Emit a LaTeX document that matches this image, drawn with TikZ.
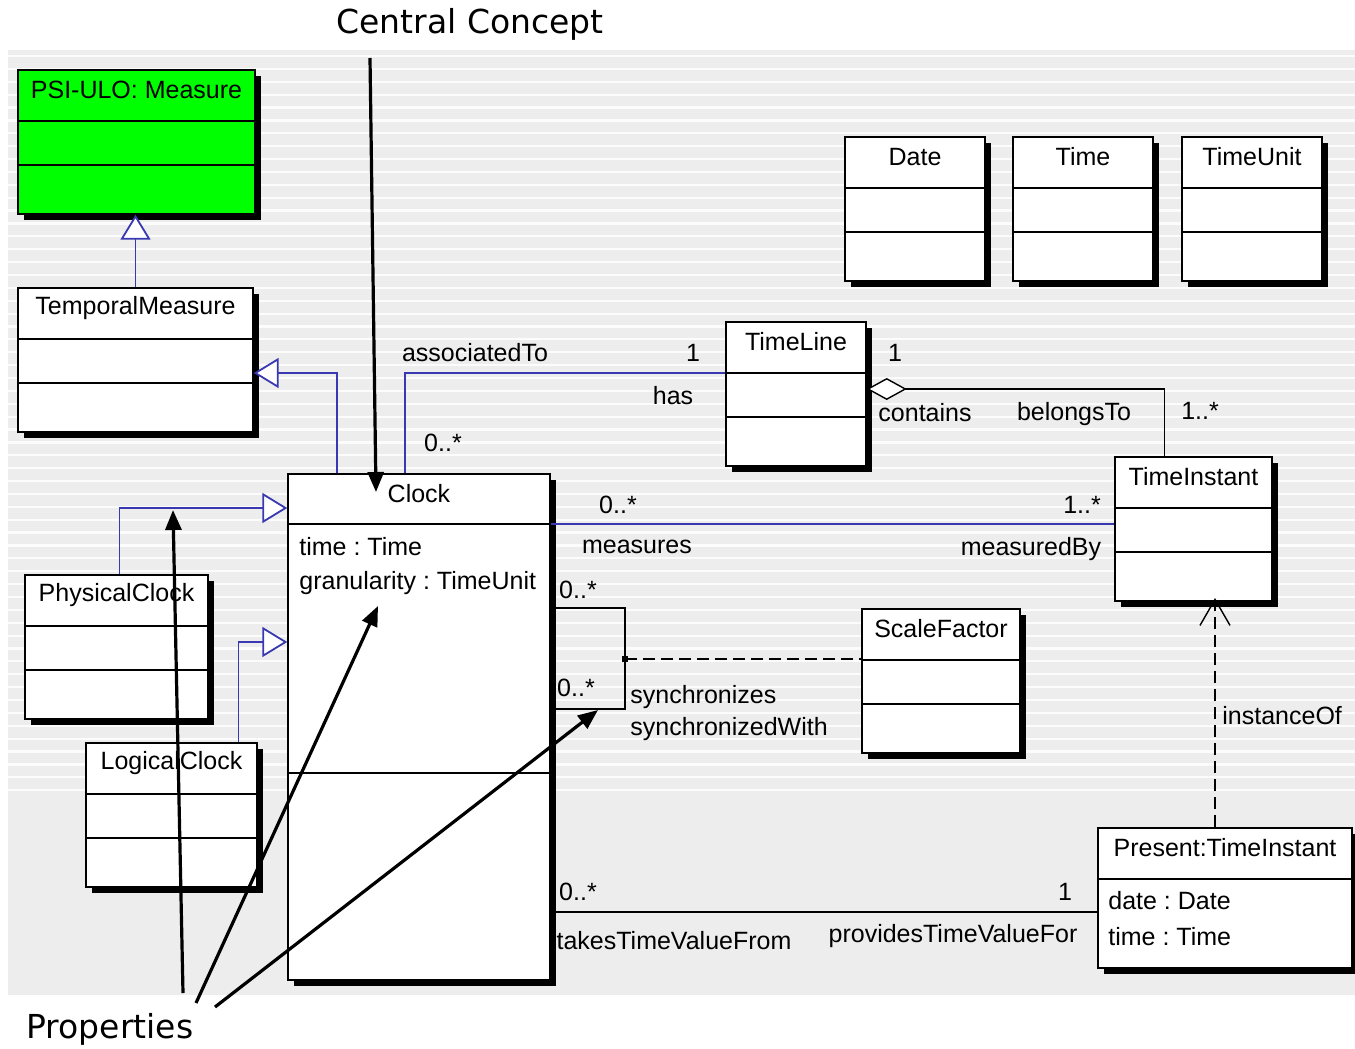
\documentclass[tikz,border=0pt]{standalone}
\usepackage{fontspec}
\setmainfont{Liberation Sans}
\newfontfamily\notefont{DejaVu Sans}
\usepackage{tikz}
\usetikzlibrary{arrows.meta}
\usetikzlibrary{shadows}
\usetikzlibrary{fit}
\usetikzlibrary{positioning}

\definecolor{umlblue}{RGB}{56,56,176}
\definecolor{panelgrey}{RGB}{237,237,237}
\definecolor{stripewhite}{RGB}{252,252,252}
\definecolor{measuregreen}{RGB}{0,255,0}

\newcommand{\umlfont}{\fontsize{12.5}{15}\selectfont}
\newcommand{\notesize}{\fontsize{16.5}{19}\selectfont}
\frenchspacing

\begin{document}
\begin{tikzpicture}[x=0.5pt, y=-0.5pt,
    every node/.style={font=\umlfont, inner sep=1pt},
    umlbox/.style={draw=black, line width=0.7pt, inner sep=0pt,
      general shadow={fill=black, shadow xshift=3pt, shadow yshift=-3pt}},
    umlline/.style={draw=black, line width=0.7pt},
    genline/.style={draw=umlblue, line width=0.9pt,
      -{Triangle[length=12.5pt, width=15pt, fill=white]}},
    assoc/.style={draw=umlblue, line width=0.9pt},
    link/.style={draw=black, line width=0.7pt},
    aggr/.style={draw=black, line width=0.7pt,
      -{Diamond[length=20pt, width=11pt, fill=white]}},
    dep/.style={draw=black, line width=0.7pt, dash pattern=on 6pt off 3pt,
      -{Straight Barb[length=13pt, width=15pt]}},
    pointer/.style={draw=black, line width=1.6pt,
      -{Triangle[length=10pt, width=8pt]}},
    note/.style={font=\notefont\notesize, inner sep=0pt}]
  \useasboundingbox (0,0) rectangle (1355,1049);
  % Striped grey panel behind the diagram
  \def\stripegap{12.88}
  \fill[panelgrey] (8,50) rectangle (1355,995);
  \foreach \k in {0,...,57} {
    \draw[stripewhite, line width=1.1pt] (8,{56+\k*\stripegap}) -- (1355,{56+\k*\stripegap});
  }
  % Classes with a name and two empty compartments
  \foreach \nm/\xa/\ya/\xb/\txt/\col in {
      measure/18/70/255/PSI-ULO: Measure/measuregreen,
      tempmeasure/18/288/253/TemporalMeasure/white,
      date/845/137/985/Date/white,
      time/1013/137/1153/Time/white,
      timeunit/1182/137/1322/TimeUnit/white,
      timeline/726/322/866/TimeLine/white,
      timeinstant/1115/457/1272/TimeInstant/white,
      physclock/25/575/208/PhysicalClock/white,
      logclock/86/743/257/LogicalClock/white,
      scalefactor/862/609/1020/ScaleFactor/white} {
    \node[umlbox, fill=\col, fit={(\xa,\ya) (\xb,{\ya+144})}] (\nm) {};
    \node (\nm-name) at ({(\xa+\xb)/2},{\ya+20}) {\txt};
    \draw[umlline] (\xa,{\ya+51}) -- (\xb,{\ya+51});
    \draw[umlline] (\xa,{\ya+95}) -- (\xb,{\ya+95});
  }
  % Clock, the central class
  \node[umlbox, fill=white, fit={(288,474) (550,980)}] (clock) {};
  \node (clock-name) at (419,494) {Clock};
  \draw[umlline] (288,524) -- (550,524);
  \draw[umlline] (288,773) -- (550,773);
  \node[anchor=west] (clock-time) at (297,547) {time : Time};
  \node[anchor=west] (clock-gran) at (297,583) {granularity : TimeUnit};
  % Present instant
  \node[umlbox, fill=white, fit={(1098,828) (1352,968)}] (present) {};
  \node (present-name) at (1225,848) {Present:TimeInstant};
  \draw[umlline] (1098,879) -- (1352,879);
  \node[anchor=west] (present-date) at (1106,901) {date : Date};
  \node[anchor=west] (present-time) at (1106,937) {time : Time};
  % Generalizations
  \draw[genline] (tempmeasure.north) -- (tempmeasure.north |- measure.south);
  \draw[genline] (clock.north west) ++(50,0) |- (tempmeasure.east |- 0,373);
  \draw[genline] (physclock.north) ++(3,0) |- (clock.west |- 0,508);
  \draw[genline] (logclock.north) ++(67,0) |- (clock.west |- 0,642);
  % Associations
  \draw[assoc] (clock.north west) ++(118,0) |- (timeline.west |- 0,373);
  \node (assoc-name) at (475,353) {associatedTo};
  \node (assoc-one) at (693,353) {1};
  \node (assoc-has) at (673,396) {has};
  \node (assoc-many) at (443,443) {0..*};
  \draw[aggr] (timeinstant.north west) ++(50,0) |- (timeline.east |- 0,389);
  \node (cont-one) at (895,353) {1};
  \node (cont-name) at (925,413) {contains};
  \node (cont-belongs) at (1074,414) {belongsTo};
  \node (cont-many) at (1200,411) {1..*};
  \draw[assoc] (clock.east |- 0,524) -- (timeinstant.west |- 0,524);
  \node (meas-many) at (618,505) {0..*};
  \node (meas-name) at (637,547) {measures};
  \node (meas-inst) at (1082,505) {1..*};
  \node (meas-by) at (1031,549) {measuredBy};
  \draw[link] (clock.east |- 0,608) -| (625,659) coordinate (synch) |- (clock.east |- 0,709);
  \draw[black, line width=0.7pt, dash pattern=on 6pt off 3pt] (synch) -- (scalefactor.west |- synch);
  \node[fill=black, inner sep=1.3pt] (synch-dot) at (synch) {};
  \node (sync-many) at (578,590) {0..*};
  \node (sync-many2) at (576,688) {0..*};
  \node[anchor=west] (sync-name) at (628,697) {synchronizes};
  \node[anchor=west] (sync-with) at (628,729) {synchronizedWith};
  \draw[link] (clock.east |- 0,912) -- (present.west |- 0,912);
  \node (takes-many) at (578,892) {0..*};
  \node (takes-one) at (1065,892) {1};
  \node (takes-name) at (674,941) {takesTimeValueFrom};
  \node (takes-provides) at (953,936) {providesTimeValueFor};
  % Instance dependency
  \draw[dep] (present.north) ++(-10,0) -- (1215,598);
  \node[anchor=west] (inst-name) at (1220,716) {instanceOf};
  % Annotations
  \node[note] (central) at (470,24) {Central Concept};
  \node[note] (props) at (110,1029) {Properties};
  \coordinate (central-tail) at (370,58);
  \coordinate (props-tail1) at (183,993);
  \coordinate (props-tail2) at (196,1003);
  \coordinate (props-tail3) at (215,1007);
  \draw[pointer] (central-tail) -- (376,492);
  \draw[pointer] (props-tail1) -- (173,510);
  \draw[pointer] (props-tail2) -- (378,606);
  \draw[pointer] (props-tail3) -- (598,710);
\end{tikzpicture}
\end{document}
